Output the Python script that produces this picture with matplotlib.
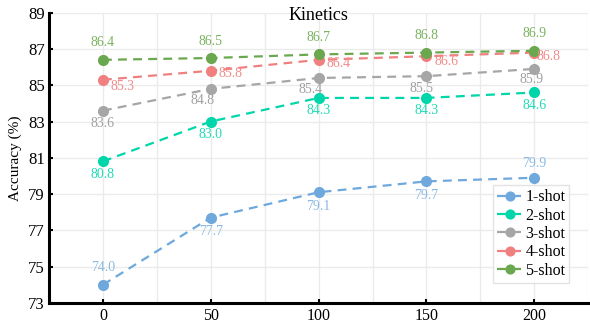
import numpy as np
import matplotlib.pyplot as plt

plt.rcParams['font.family'] = ['Liberation Serif', 'DejaVu Serif']

steps = [0, 50, 100, 150, 200]
shot_names = ["1-shot", "2-shot", "3-shot", "4-shot", "5-shot"]
acc_1shot = [74.0, 77.7, 79.1, 79.7, 79.9]
acc_2shot = [80.8, 83.0, 84.3, 84.3, 84.6]
acc_3shot = [83.6, 84.8, 85.4, 85.5, 85.9]
acc_4shot = [85.3, 85.8, 86.4, 86.6, 86.8]
acc_5shot = [86.4, 86.5, 86.7, 86.8, 86.9]
y_ticks = [73, 75, 77, 79, 81, 83, 85, 87, 89]

line_colors = ["#6fa8dc", "#00d6aa", "#a6a6a6", "#f08080", "#6aa84f"]
text_colors = ["#8db9e3", "#1fdcb5", "#a0a0a0", "#f28a8a", "#79b35f"]

# label offsets in pixels (dx, dy)
offsets = [
    [(0, 17), (0, -14), (0, -14), (0, -14), (0, 14)],
    [(0, -13), (0, -13), (0, -13), (0, -13), (0, -13)],
    [(0, -13), (-8, -12), (-8, -12), (-5, -12), (-3, -11)],
    [(20, -7), (20, -3), (20, -4), (20, -5), (14, -4)],
    [(0, 17), (0, 17), (0, 17), (0, 17), (0, 17)],
]


def main():
    fig = plt.figure(figsize=(5.9, 3.25), dpi=100)
    ax = fig.add_axes([0.083, 0.068, 0.914, 0.893])

    series = [acc_1shot, acc_2shot, acc_3shot, acc_4shot, acc_5shot]
    for i, ys in enumerate(series):
        ax.plot(steps, ys, linestyle=(0, (4, 2.8)), linewidth=1.6,
                marker='o', markersize=7, color=line_colors[i],
                label=shot_names[i], zorder=3)
        for j in range(len(steps)):
            ax.annotate(f"{ys[j]:.1f}", (steps[j], ys[j]),
                        xytext=offsets[i][j], textcoords='offset pixels',
                        ha='center', va='center', fontsize=10,
                        color=text_colors[i], zorder=4)

    ax.set_xlim(-24.5, 224)
    ax.set_ylim(73, 89)
    ax.set_xticks(steps)
    ax.set_xticks([-25, 25, 75, 125, 175, 225], minor=True)
    ax.set_yticks(y_ticks)
    ax.tick_params(axis='both', which='major', direction='in', length=3,
                   width=1.5, labelsize=12, pad=3)
    ax.tick_params(axis='x', which='minor', length=0)
    ax.tick_params(axis='x', which='major', labelsize=11.5, pad=4)
    ax.grid(True, which='both', color='#ebebeb', linewidth=1, zorder=0)
    ax.set_axisbelow(True)

    for s in ['top', 'right']:
        ax.spines[s].set_visible(False)
    for s in ['left', 'bottom']:
        ax.spines[s].set_linewidth(2.2)

    ax.set_ylabel("Accuracy (%)", fontsize=11, labelpad=4)
    ax.text(0.5, 0.99, "Kinetics", transform=ax.transAxes, ha='center',
            va='center', fontsize=13)

    ax.legend(loc='lower right', bbox_to_anchor=(0.965, 0.069), fontsize=11.5,
              frameon=True, fancybox=False, edgecolor='#dddddd',
              handlelength=1.6, borderpad=0.25, labelspacing=0.15,
              handletextpad=0.15, borderaxespad=0, markerscale=0.9)

    fig.savefig("out.png", dpi=100)


if __name__ == "__main__":
    main()
